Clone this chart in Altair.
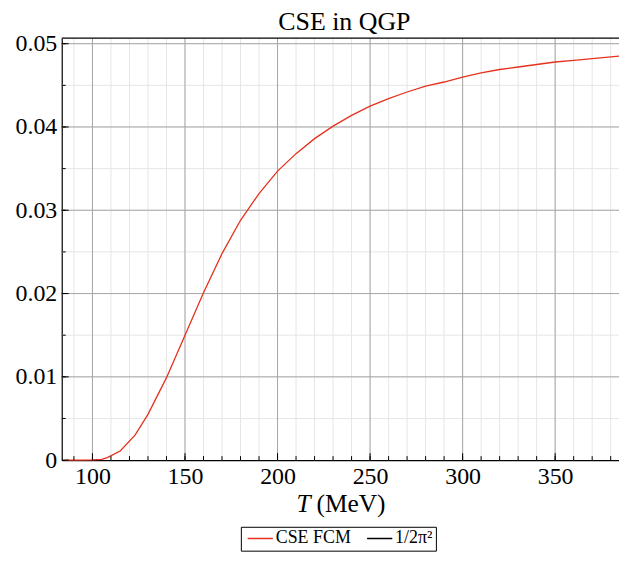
import math
import altair as alt
import pandas as pd

# ---------------- data ----------------
T_vals = [85, 90, 95, 100, 105, 108, 115, 123, 130, 140, 150, 160, 170, 180, 190,
          200, 210, 220, 230, 240, 250, 260, 270, 280, 290, 300, 310, 320, 330,
          340, 350, 360, 370, 384.5]
cse_vals = [0.0, 0.0, 0.0, 0.00002, 0.0001, 0.0003, 0.0011, 0.0030, 0.0055, 0.0099,
            0.0150, 0.0201, 0.0248, 0.0288, 0.0320, 0.0347, 0.0368, 0.0386, 0.0401,
            0.0414, 0.0425, 0.0434, 0.0442, 0.0449, 0.0454, 0.0460, 0.0465, 0.0469,
            0.0472, 0.0475, 0.0478, 0.0480, 0.0482, 0.0485]
limit_value = 1 / (2 * math.pi ** 2)

series_names = ["CSE FCM", "1/2π²"]
series_colors = ["#e5311d", "#000000"]

x_domain = [83.4, 384.5]
y_domain = [0, limit_value]
major_x = [100, 150, 200, 250, 300, 350]
minor_x = [90, 100, 110, 120, 130, 140, 150, 160, 170, 180, 190, 200, 210, 220, 230,
           240, 250, 260, 270, 280, 290, 300, 310, 320, 330, 340, 350, 360, 370, 380]
major_y = [0, 0.01, 0.02, 0.03, 0.04, 0.05]
minor_y = [0.005, 0.01, 0.015, 0.02, 0.025, 0.03, 0.035, 0.04, 0.045, 0.05]

title_text = ["CSE in QGP"]
axis_title_var = ["T"]
axis_title_unit = ["(MeV)"]

# ---------------- layout ----------------
W, H = 560, 424
FONT = "Liberation Serif"

x_scale = alt.Scale(domain=x_domain, nice=False, zero=False)
y_scale = alt.Scale(domain=y_domain, nice=False, zero=False)

x_axis = alt.Axis(values=major_x, grid=False, ticks=False, title=None,
                  domainColor="black", domainWidth=1.2,
                  labelFont=FONT, labelFontSize=24, labelColor="black",
                  labelPadding=4, labelFlush=False)
y_axis = alt.Axis(values=major_y, grid=False, ticks=False, title=None,
                  format=".2~f",
                  domainColor="black", domainWidth=1.2,
                  labelFont=FONT, labelFontSize=24, labelColor="black",
                  labelPadding=5, labelFlush=False)


def X(field):
    return alt.X(field, type="quantitative", scale=x_scale, axis=x_axis)


def Y(field):
    return alt.Y(field, type="quantitative", scale=y_scale, axis=y_axis)


curve_df = pd.DataFrame({"T": T_vals, "v": cse_vals, "series": series_names[0]})
limit_df = pd.DataFrame({"T": x_domain, "v": [limit_value, limit_value], "series": series_names[1]})
lines_df = pd.concat([curve_df, limit_df], ignore_index=True)

minor_x_grid = alt.Chart(pd.DataFrame({"T": minor_x})).mark_rule(
    color="#e6e6e6", strokeWidth=1
).encode(x=X("T"))

minor_y_grid = alt.Chart(pd.DataFrame({"v": minor_y})).mark_rule(
    color="#e6e6e6", strokeWidth=1
).encode(y=Y("v"))

major_x_grid = alt.Chart(pd.DataFrame({"T": major_x})).mark_rule(
    color="#a6a6a6", strokeWidth=1
).encode(x=X("T"))

major_y_grid = alt.Chart(pd.DataFrame({"v": major_y[1:]})).mark_rule(
    color="#a6a6a6", strokeWidth=1
).encode(y=Y("v"))

x_minor_ticks = alt.Chart(pd.DataFrame({"T": minor_x})).mark_rule(
    color="black", strokeWidth=1
).encode(x=X("T"), y=alt.value(H), y2=alt.value(H - 4))

x_major_ticks = alt.Chart(pd.DataFrame({"T": major_x})).mark_rule(
    color="black", strokeWidth=1
).encode(x=X("T"), y=alt.value(H), y2=alt.value(H - 7))

y_minor_ticks = alt.Chart(pd.DataFrame({"v": minor_y})).mark_rule(
    color="black", strokeWidth=1
).encode(y=Y("v"), x=alt.value(0), x2=alt.value(4))

y_major_ticks = alt.Chart(pd.DataFrame({"v": major_y})).mark_rule(
    color="black", strokeWidth=1
).encode(y=Y("v"), x=alt.value(0), x2=alt.value(7))

lines = alt.Chart(lines_df).mark_line(strokeWidth=1.3, clip=False).encode(
    x=X("T"),
    y=Y("v"),
    color=alt.Color("series:N",
                    scale=alt.Scale(domain=series_names, range=series_colors),
                    legend=alt.Legend(title=None, orient="none", legendX=180, legendY=491,
                                      direction="horizontal",
                                      symbolType="stroke", symbolSize=640,
                                      symbolStrokeWidth=1.4, symbolOffset=3,
                                      clipHeight=17,
                                      labelFont=FONT, labelFontSize=18, labelColor="black",
                                      labelOffset=2, columnPadding=12,
                                      strokeColor="black", padding=3, fillColor="white")),
    detail="series:N",
)

title_mark = alt.Chart(pd.DataFrame({"t": title_text})).mark_text(
    font=FONT, fontSize=26, align="center", baseline="alphabetic", color="black"
).encode(text="t:N", x=alt.value(284), y=alt.value(-8))

t_var = alt.Chart(pd.DataFrame({"t": axis_title_var})).mark_text(
    font=FONT, fontSize=25.5, fontStyle="italic", align="left", baseline="alphabetic", color="black"
).encode(text="t:N", x=alt.value(236), y=alt.value(476))

t_unit = alt.Chart(pd.DataFrame({"t": axis_title_unit})).mark_text(
    font=FONT, fontSize=25.5, align="left", baseline="alphabetic", color="black"
).encode(text="t:N", x=alt.value(256), y=alt.value(476))

chart = alt.layer(
    minor_x_grid, minor_y_grid, major_x_grid, major_y_grid,
    lines, x_minor_ticks, x_major_ticks, y_minor_ticks, y_major_ticks,
    title_mark, t_var, t_unit,
).properties(
    width=W, height=H,
    autosize=alt.AutoSizeParams(type="none"),
    padding={"left": 54, "top": 29, "right": 0, "bottom": 92},
).configure_view(
    stroke=None
).configure_axis(
    labelFont=FONT, labelFontSize=24, labelColor="black"
).configure_legend(
    labelFont=FONT
)

chart.save("out.html", embed_options={"renderer": "svg", "actions": False})
